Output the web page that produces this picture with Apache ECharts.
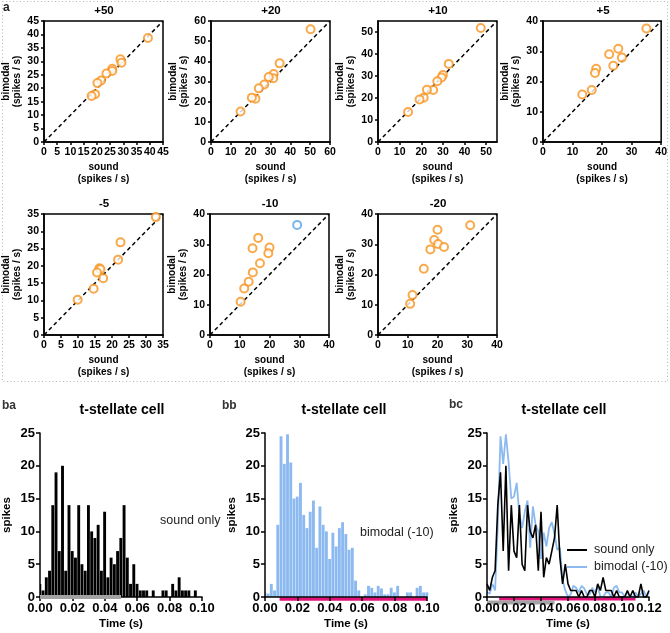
<!DOCTYPE html>
<html>
<head>
<meta charset="utf-8">
<script src="https://cdn.jsdelivr.net/npm/echarts@6/dist/echarts.min.js"></script>
<style>
  html, body { margin: 0; padding: 0; background: #fff; }
  #main { width: 670px; height: 633px; }
</style>
</head>
<body>
<div id="main"></div>
<script>
// ---- panel a: sound vs bimodal firing rate (spikes / s), one panel per offset
var scatterTitles = ['+50', '+20', '+10', '+5', '-5', '-10', '-20'];
var scatterMax = [45, 60, 55, 40, 35, 40, 40];
var scatterStep = [5, 10, 10, 10, 5, 10, 10];

var soundP50 = [39.3, 28.9, 29.3, 25.8, 25.8, 23.6, 21.6, 20.2, 19.3, 18.0];
var bimodalP50 = [38.7, 30.8, 29.5, 27.2, 26.4, 25.5, 22.9, 21.9, 17.8, 17.1];
var soundP20 = [50.2, 34.6, 31.6, 31.4, 29.1, 26.9, 24.1, 22.4, 20.6, 14.9];
var bimodalP20 = [55.9, 39.0, 33.7, 31.6, 32.2, 28.5, 26.6, 21.5, 22.0, 15.1];
var soundP10 = [47.5, 32.7, 30.0, 29.4, 27.4, 25.5, 22.6, 21.1, 19.2, 13.9];
var bimodalP10 = [51.8, 35.5, 30.4, 29.3, 27.6, 23.6, 23.7, 20.1, 19.3, 13.6];
var soundP5 = [35.0, 25.5, 22.4, 26.7, 23.8, 18.0, 17.6, 16.5, 13.3];
var bimodalP5 = [37.5, 30.8, 29.0, 27.9, 25.2, 24.2, 22.8, 17.2, 15.7];
var soundM5 = [32.9, 22.5, 21.8, 16.3, 16.6, 15.6, 17.4, 14.6, 9.9];
var bimodalM5 = [34.1, 26.8, 21.8, 19.3, 19.0, 18.1, 16.4, 13.4, 10.2];
var soundM10 = [16.2, 14.3, 20.0, 19.6, 16.8, 14.4, 13.0, 11.5, 10.3];
var bimodalM10 = [32.1, 28.7, 28.9, 27.0, 23.7, 20.7, 17.6, 15.4, 11.0];
var soundM10Blue = [29.3];
var bimodalM10Blue = [36.4];
var soundM20 = [31.0, 20.0, 18.9, 20.2, 22.2, 17.6, 15.4, 11.6, 10.8];
var bimodalM20 = [36.3, 34.8, 31.4, 30.1, 29.1, 28.3, 21.9, 13.2, 10.3];

var scatterSound = [soundP50, soundP20, soundP10, soundP5, soundM5, soundM10, soundM20];
var scatterBimodal = [bimodalP50, bimodalP20, bimodalP10, bimodalP5, bimodalM5, bimodalM10, bimodalM20];

// ---- panel b: PSTH of a t-stellate cell, 2 ms bins starting at 0 s
var binWidth = 0.002;
var soundCounts = [2, 1, 3, 4, 14, 19, 7, 20, 4, 14,
                   7, 6, 14, 5, 4, 14, 10, 9, 11, 4,
                   13, 3, 6, 5, 7, 9, 14, 6, 2, 5,
                   2, 1, 1, 1, 0, 1, 0, 0, 1, 1,
                   0, 2, 1, 3, 1, 1, 1, 0, 1, 0,
                   0, 0, 1, 0, 1, 0, 0, 2, 0, 0, 1];
var bimodalCounts = [0.7, 0.5, 2, 1, 11, 24.5, 20.3, 24.8, 20.5, 15,
                     15.3, 17.4, 12.5, 10.5, 13, 14.7, 7.5, 13.8, 11, 10,
                     5.8, 9.8, 7.7, 10.5, 11.4, 9.6, 7.2, 7.5, 2.5, 1,
                     0, 0.4, 1.7, 1.4, 0.7, 1.7, 1.3, 0.4, 0.4, 1.4,
                     0.7, 1.7, 0, 0, 0.7, 0.7, 0, 1.4, 1.7, 0.7,
                     0.7, 0, 0.7, 0, 0, 0.7, 0, 0.5, 1, 0, 0.7];
var soundStim = [0, 0.05];
var bimodalStim = [0.009, 0.11];

var SANS = "'Liberation Sans', Arial, sans-serif";
var ORANGE = '#f7931e';
var BLUE = '#8cbaf0';
var PINK = '#e3137c';
var GREY = '#a3a3a3';

var scatterLeft = [44, 211, 378, 543, 44, 210, 378];
var scatterTop = [21, 21, 21, 21, 214, 214, 214];
var histLeft = [40, 265, 487];

var myChart = echarts.init(document.getElementById('main'));

var grids = [], xAxes = [], yAxes = [], series = [], graphics = [];

function pairs(xs, ys) {
    return xs.map(function (x, i) { return [x, ys[i]]; });
}

function boxAxis(max, step, name, gap, lh) {
    return {
        type: 'value', min: 0, max: max, interval: step,
        name: name, nameLocation: 'middle', nameGap: gap,
        nameTextStyle: { fontFamily: SANS, fontWeight: 'bold', fontSize: 10, lineHeight: lh, color: '#000' },
        axisLine: { show: true, onZero: false, lineStyle: { color: '#000', width: 1.5 } },
        axisTick: { show: true, length: 3, lineStyle: { color: '#000', width: 1.5 } },
        axisLabel: { margin: 5, fontFamily: SANS, fontWeight: 'bold', fontSize: 10.5, color: '#000',
                     showMaxLabel: max % step === 0 },
        splitLine: { show: false }
    };
}

scatterTitles.forEach(function (title, k) {
    var max = scatterMax[k];
    grids.push({ left: scatterLeft[k], top: scatterTop[k], width: 119, height: 121,
                 show: true, borderColor: '#000', borderWidth: 1.5 });
    var xa = boxAxis(max, scatterStep[k], 'sound\n(spikes / s)', 19, 12);
    xa.gridIndex = k;
    var ya = boxAxis(max, scatterStep[k], 'bimodal\n(spikes / s)', 21, 11);
    ya.gridIndex = k;
    xAxes.push(xa);
    yAxes.push(ya);
    series.push({
        type: 'line', xAxisIndex: k, yAxisIndex: k, silent: true, symbol: 'none', z: 2,
        data: [[0, 0], [max, max]],
        lineStyle: { color: '#000', width: 1.5, type: [4, 3] }
    });
    series.push({
        type: 'scatter', xAxisIndex: k, yAxisIndex: k, z: 3,
        symbol: 'emptyCircle', symbolSize: 8,
        itemStyle: { color: ORANGE, borderColor: ORANGE, borderWidth: 1.5 },
        data: pairs(scatterSound[k], scatterBimodal[k])
    });
    graphics.push({
        type: 'text', x: scatterLeft[k] + 60, y: scatterTop[k] - 10,
        style: { text: title, font: 'bold 11.5px ' + SANS, fill: '#000', align: 'center', verticalAlign: 'middle' }
    });
});

series.push({
    type: 'scatter', xAxisIndex: 5, yAxisIndex: 5, z: 3,
    symbol: 'emptyCircle', symbolSize: 8,
    itemStyle: { color: '#5aa3ec', borderColor: '#5aa3ec', borderWidth: 1.5 },
    data: pairs(soundM10Blue, bimodalM10Blue)
});

// ---- histogram panels
function histBar(params, api) {
    var t = api.value(0), n = api.value(1);
    if (!n) return;
    var top = api.coord([t - binWidth / 2, n]);
    var base = api.coord([t + binWidth / 2, 0]);
    var left = Math.max(top[0], params.coordSys.x);
    return {
        type: 'rect',
        shape: { x: left, y: top[1], width: base[0] - left - 0.35, height: base[1] - top[1] },
        style: { fill: api.visual('color') }
    };
}

function stimBar(offset, thick) {
    return function (params, api) {
        var a = api.coord([api.value(0), 0]);
        var b = api.coord([api.value(1), 0]);
        var cs = params.coordSys;
        var x0 = Math.max(a[0], cs.x), x1 = Math.min(b[0], cs.x + cs.width);
        return {
            type: 'rect',
            shape: { x: x0, y: a[1] + offset, width: x1 - x0, height: thick },
            style: { fill: api.visual('color') }
        };
    };
}

function timed(counts, n) {
    return counts.slice(0, n).map(function (c, i) { return [i * binWidth, c]; });
}

histLeft.forEach(function (left, j) {
    var g = 7 + j;
    var tmax = j === 2 ? 0.12 : 0.1;
    grids.push({ left: left, top: 433, width: 162, height: 164 });
    xAxes.push({
        gridIndex: g, type: 'value', min: 0, max: tmax, interval: 0.02, z: 10,
        name: 'Time (s)', nameLocation: 'middle', nameGap: 21,
        nameTextStyle: { fontFamily: SANS, fontWeight: 'bold', fontSize: 11.5, color: '#000' },
        axisLine: { show: true, onZero: false, lineStyle: { color: '#000', width: 1.5 } },
        axisTick: { show: true, length: 4, lineStyle: { color: '#000', width: 1.5 } },
        axisLabel: { margin: 5, fontFamily: SANS, fontWeight: 'bold', fontSize: 13, color: '#000',
                     formatter: function (v) { return v.toFixed(2); } },
        splitLine: { show: false }
    });
    yAxes.push({
        gridIndex: g, type: 'value', min: 0, max: 25, interval: 5, z: 10,
        name: 'spikes', nameLocation: 'middle', nameGap: 27,
        nameTextStyle: { fontFamily: SANS, fontWeight: 'bold', fontSize: 11.5, color: '#000' },
        axisLine: { show: true, onZero: false, lineStyle: { color: '#000', width: 1.5 } },
        axisTick: { show: true, length: 4, lineStyle: { color: '#000', width: 1.5 } },
        axisLabel: { margin: 5, fontFamily: SANS, fontWeight: 'bold', fontSize: 13, color: '#000' },
        splitLine: { show: false }
    });
});

series.push({
    name: 'sound psth', type: 'custom', xAxisIndex: 7, yAxisIndex: 7, renderItem: histBar,
    encode: { x: 0, y: 1 }, itemStyle: { color: '#000' }, data: timed(soundCounts, 51)
});
series.push({
    type: 'custom', xAxisIndex: 7, yAxisIndex: 7, renderItem: stimBar(-2, 4), silent: true, z: 20,
    encode: { x: [0, 1] }, itemStyle: { color: GREY }, data: [soundStim]
});
series.push({
    name: 'bimodal psth', type: 'custom', xAxisIndex: 8, yAxisIndex: 8, renderItem: histBar,
    encode: { x: 0, y: 1 }, itemStyle: { color: BLUE }, data: timed(bimodalCounts, 51)
});
series.push({
    type: 'custom', xAxisIndex: 8, yAxisIndex: 8, renderItem: stimBar(0.3, 3.5), silent: true, z: 1,
    encode: { x: [0, 1] }, itemStyle: { color: PINK }, data: [bimodalStim]
});
series.push({
    type: 'custom', xAxisIndex: 9, yAxisIndex: 9, renderItem: stimBar(0, 3.5), silent: true, z: 1,
    encode: { x: [0, 1] }, itemStyle: { color: PINK }, data: [bimodalStim]
});
series.push({
    type: 'custom', xAxisIndex: 9, yAxisIndex: 9, renderItem: stimBar(3.5, 4), silent: true, z: 1,
    encode: { x: [0, 1] }, itemStyle: { color: GREY }, data: [soundStim]
});
series.push({
    name: 'bimodal (-10)', type: 'line', xAxisIndex: 9, yAxisIndex: 9, symbol: 'none', z: 3,
    itemStyle: { color: BLUE }, lineStyle: { color: BLUE, width: 1.8 },
    data: timed(bimodalCounts, 61)
});
series.push({
    name: 'sound only', type: 'line', xAxisIndex: 9, yAxisIndex: 9, symbol: 'none', z: 4,
    itemStyle: { color: '#000' }, lineStyle: { color: '#000', width: 1.6 },
    data: timed(soundCounts, 61)
});

// ---- labels and frame
function label(text, x, y, font, align, color) {
    graphics.push({
        type: 'text', x: x, y: y,
        style: { text: text, font: font, fill: color || '#000', align: align || 'center', verticalAlign: 'middle' }
    });
}
graphics.push({
    type: 'rect', silent: true, shape: { x: 2.5, y: 1.5, width: 665, height: 380 },
    style: { fill: 'none', stroke: '#b4b4b4', lineWidth: 1, lineDash: [1, 2.5] }
});
label('a', 3, 8, 'bold 12px ' + SANS, 'left', '#222');
label('ba', 2, 406, 'bold 12px ' + SANS, 'left', '#333');
label('bb', 222, 406, 'bold 12px ' + SANS, 'left', '#333');
label('bc', 449, 405, 'bold 12px ' + SANS, 'left', '#333');
label('t-stellate cell', 122, 410, 'bold 14px ' + SANS);
label('t-stellate cell', 344, 410, 'bold 14px ' + SANS);
label('t-stellate cell', 564, 410, 'bold 14px ' + SANS);
label('sound only', 160, 521, '12.5px ' + SANS, 'left', '#222');
label('bimodal (-10)', 360, 533, '12.5px ' + SANS, 'left', '#222');

var option = {
    animation: false,
    backgroundColor: '#fff',
    grid: grids,
    xAxis: xAxes,
    yAxis: yAxes,
    series: series,
    graphic: graphics,
    legend: {
        data: ['sound only', 'bimodal (-10)'],
        orient: 'vertical', left: 567, top: 543, padding: 0,
        itemWidth: 20, itemHeight: 2, itemGap: 3, icon: 'rect', selectedMode: false,
        textStyle: { fontFamily: SANS, fontSize: 12.5, color: '#222', lineHeight: 14, padding: [0, 0, 0, 2] }
    }
};

myChart.setOption(option);
</script>
</body>
</html>
